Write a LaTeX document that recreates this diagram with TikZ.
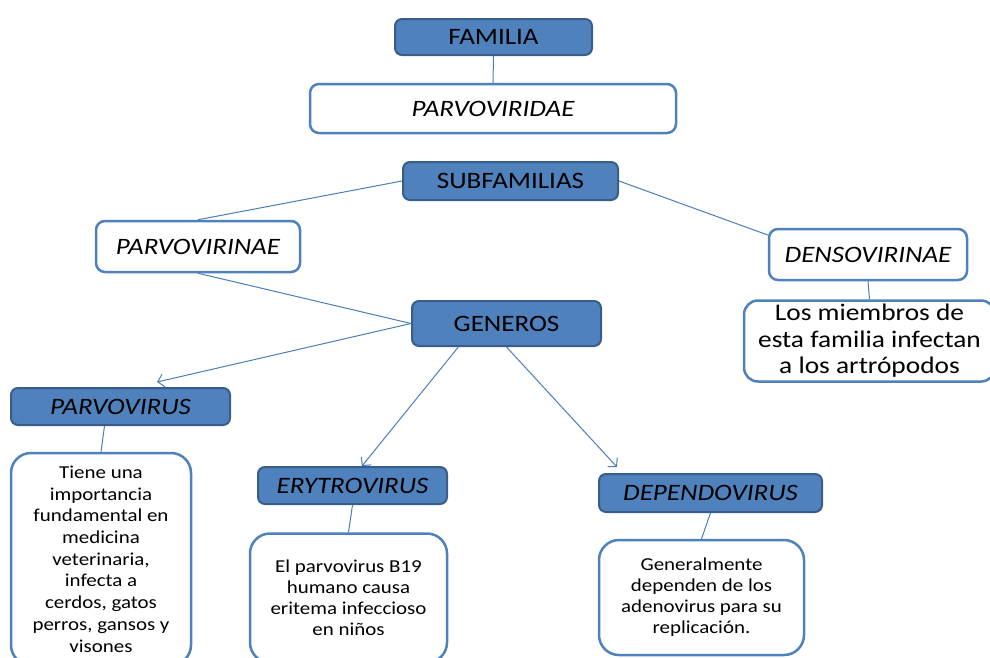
\documentclass[tikz,border=0pt]{standalone}
\usepackage{fontspec}
\setmainfont{Carlito}[FakeStretch=1.15]
\usetikzlibrary{arrows.meta,calc}
\definecolor{fillblue}{HTML}{4F81BD}
\definecolor{darkblue}{HTML}{385D8A}
\definecolor{lineblue}{HTML}{4A7EBB}
\tikzset{
  hdr/.style={draw=darkblue, fill=fillblue, line width=2pt, rounded corners=7pt, inner sep=0pt,
    font=\fontsize{23.5}{27}\selectfont},
  wbox/.style={draw=fillblue, fill=white, line width=2.5pt, rounded corners=9pt, inner sep=0pt,
    font=\fontsize{23.5}{27}\selectfont},
  tbox/.style={draw=fillblue, fill=white, line width=2.5pt, rounded corners=20pt, inner sep=0pt,
    align=center, font=\fontsize{18.2}{21}\selectfont},
  conn/.style={draw=lineblue, line width=1pt},
  arr/.style={conn, -{Straight Barb[length=6pt,width=13pt]}}
}
\begin{document}
\begin{tikzpicture}[x=1pt,y=-1pt]
\useasboundingbox (0,0) rectangle (990,657);
\node[hdr, minimum width=197pt, minimum height=36pt] (familia) at (493.5,37) {FAMILIA};
\node[wbox, minimum width=366pt, minimum height=49pt] (parvoviridae) at (493,108.5) {\itshape PARVOVIRIDAE};
\node[hdr, minimum width=215pt, minimum height=38pt] (subfam) at (510.5,181) {SUBFAMILIAS};
\node[wbox, minimum width=204pt, minimum height=51pt] (parvovirinae) at (198,246.5) {\itshape PARVOVIRINAE};
\node[wbox, minimum width=198pt, minimum height=51pt] (densovirinae) at (868,254.5) {\itshape DENSOVIRINAE};
\node[wbox, rounded corners=14pt, align=center, minimum width=251pt, minimum height=81pt,
  font=\fontsize{23.8}{26.5}\selectfont] (miembros) at (869.5,341) {Los miembros de\\esta familia infectan\\a los artrópodos};
\node[hdr, minimum width=189pt, minimum height=45pt] (generos) at (506.5,323.5) {GENEROS};
\node[hdr, minimum width=219pt, minimum height=37pt] (parvovirus) at (120.5,406.5) {\itshape PARVOVIRUS};
\node[tbox, minimum width=180pt, minimum height=212pt, font=\fontsize{18.2}{21.7}\selectfont] (tiene) at (101,559) {Tiene una\\importancia\\fundamental en\\medicina\\veterinaria,\\infecta a\\cerdos, gatos\\perros, gansos y\\visones};
\node[hdr, minimum width=189pt, minimum height=37pt] (erytro) at (352.5,485.5) {\itshape ERYTROVIRUS};
\node[tbox, minimum width=197pt, minimum height=129pt] (elparvo) at (348.5,598) {El parvovirus B19\\humano causa\\eritema infeccioso\\en niños};
\node[hdr, minimum width=223pt, minimum height=38pt] (dependo) at (710.5,493) {\itshape DEPENDOVIRUS};
\node[tbox, minimum width=205pt, minimum height=115pt] (general) at (701.5,597.5) {Generalmente\\dependen de los\\adenovirus para su\\replicación.};
\coordinate (tipA) at (157,382);
\coordinate (tipB) at (362,466);
\coordinate (tipC) at (617,467);
\draw[conn] (familia.south) -- (parvoviridae.north);
\draw[conn] (subfam.west) -- (parvovirinae.north);
\draw[conn] (subfam.east) -- (densovirinae.169);
\draw[conn] (densovirinae.south) -- (miembros.north);
\draw[conn] (parvovirinae.south) -- (generos.west);
\draw[arr] (generos.west) -- (tipA);
\draw[arr] (generos.206) -- (tipB);
\draw[arr] (generos.south) -- (tipC);
\draw[conn] ($(parvovirus.south)+(-16,0)$) -- (tiene.north);
\draw[conn] (erytro.south) -- (elparvo.north);
\draw[conn] (dependo.south) -- (general.north);
\end{tikzpicture}
\end{document}
